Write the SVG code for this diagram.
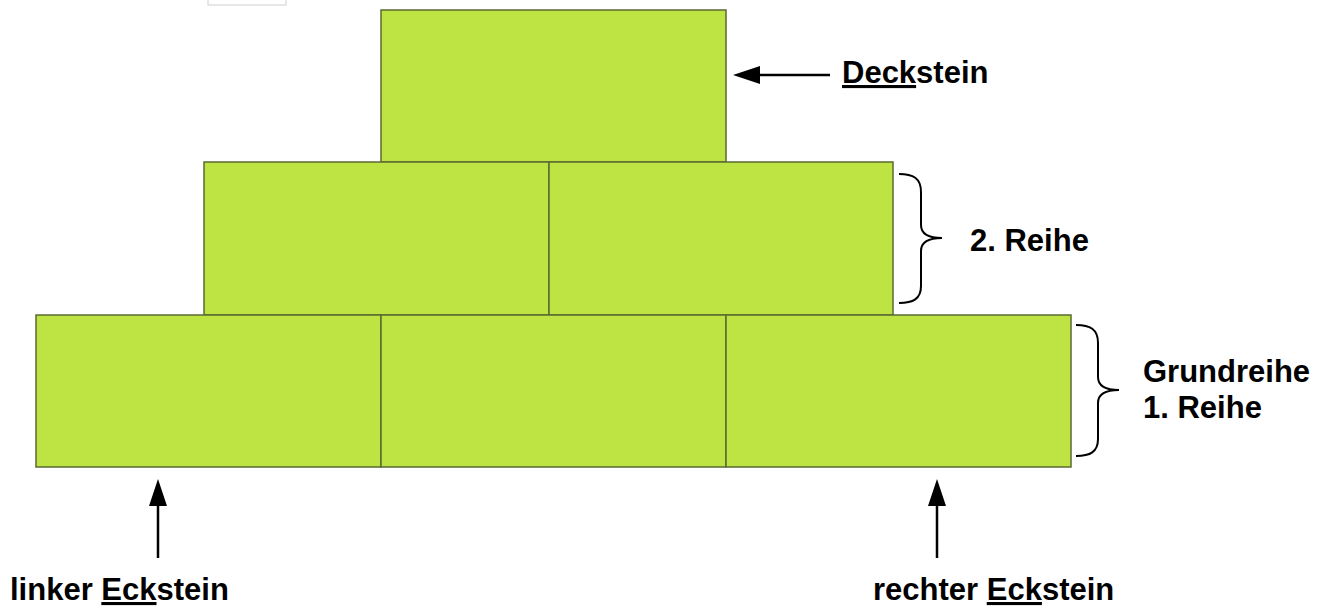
<svg xmlns="http://www.w3.org/2000/svg" width="1325" height="608" viewBox="0 0 1325 608">
<style>
.brick{fill:#bde442;stroke:#5b6a33;stroke-width:1.5}
.lbl{font-family:"Liberation Sans",Arial,sans-serif;font-weight:bold;font-size:31px;fill:#000}
.ul{text-decoration:underline}
.con{stroke:#000;stroke-width:2.5;fill:none;marker-end:url(#ah)}
.brace{stroke:#000;stroke-width:2;fill:none}
</style>
<defs>
<marker id="ah" viewBox="0 0 27 18" refX="7" refY="9" markerWidth="27" markerHeight="18" markerUnits="userSpaceOnUse" orient="auto">
<path d="M0,0 L27,9 L0,18 z" fill="#000"/>
</marker>
</defs>
<rect width="1325" height="608" fill="#fff"/>
<g id="artifact">
<rect x="208" y="-2" width="78" height="7" fill="#fff" stroke="#d0d0d0" stroke-width="1"/>
</g>
<g id="deckstein"><rect class="brick" x="381" y="10" width="345" height="152"/></g>
<g id="reihe2-links"><rect class="brick" x="204" y="162" width="345" height="153"/></g>
<g id="reihe2-rechts"><rect class="brick" x="549" y="162" width="344" height="153"/></g>
<g id="reihe1-links"><rect class="brick" x="36" y="315" width="345" height="152"/></g>
<g id="reihe1-mitte"><rect class="brick" x="381" y="315" width="345" height="152"/></g>
<g id="reihe1-rechts"><rect class="brick" x="726" y="315" width="345" height="152"/></g>
<g id="connectors">
<line class="con" x1="830" y1="75" x2="753" y2="75"/>
<line class="con" x1="158" y1="558" x2="158" y2="499"/>
<line class="con" x1="937" y1="558" x2="937" y2="499"/>
<path class="brace" d="M899,174 C913,174 921,178 921,192 L921,225 C921,234 929,238 942,238 C929,238 921,242 921,251 L921,286 C921,299 913,303 899,303"/>
<path class="brace" d="M1076,325 C1090,325 1098,329 1098,343 L1098,377 C1098,386 1106,390 1119,390 C1106,390 1098,394 1098,403 L1098,439 C1098,452 1090,456 1076,456"/>
</g>
<g id="labels">
<text class="lbl" x="842" y="83"><tspan class="ul">Deck</tspan>stein</text>
<text class="lbl" x="970" y="251">2. Reihe</text>
<text class="lbl" x="1143" y="382">Grundreihe</text>
<text class="lbl" x="1143" y="418">1. Reihe</text>
<text class="lbl" x="10" y="600">linker <tspan class="ul">Eck</tspan>stein</text>
<text class="lbl" x="873" y="600">rechter <tspan class="ul">Eck</tspan>stein</text>
</g>
</svg>
